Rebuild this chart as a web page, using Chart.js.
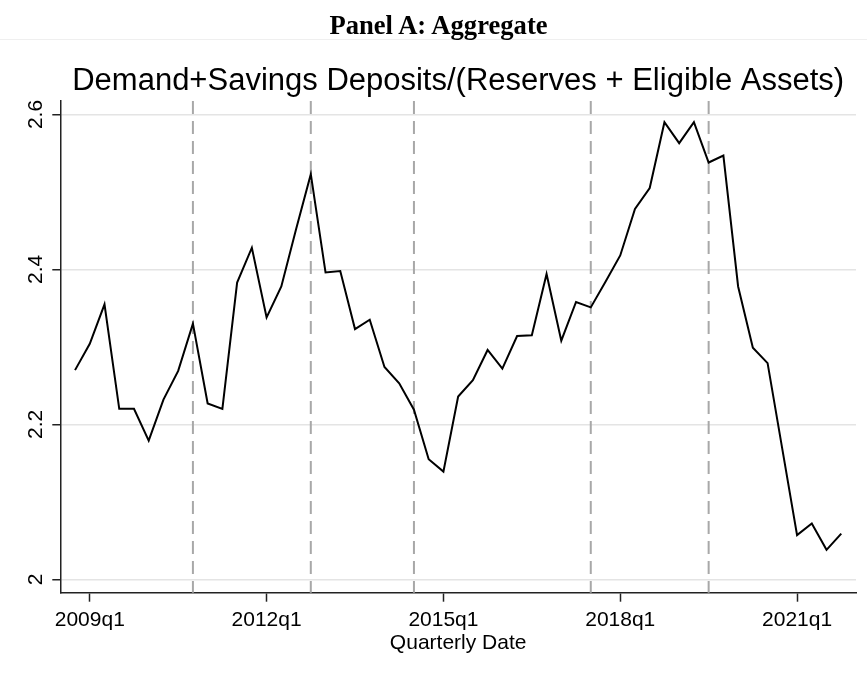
<!DOCTYPE html>
<html>
<head>
<meta charset="utf-8">
<script src="https://cdn.jsdelivr.net/npm/chart.js@4/dist/chart.umd.min.js"></script>
<style>
body{margin:0;background:#fff;overflow:hidden;}
#panel{position:absolute;top:10px;left:5px;width:867px;text-align:center;line-height:30px;font:bold 26.6px "Liberation Serif","Times New Roman",serif;color:#000;}
#sep{position:absolute;top:39px;left:0;width:867px;height:1px;background:#efefef;}
#c{position:absolute;top:0;left:0;}
</style>
</head>
<body>
<canvas id="c" width="867" height="673"></canvas>
<div id="sep"></div>
<div id="panel">Panel A: Aggregate</div>
<script>
const quarters = [
  "2008q4",
  "2009q1","2009q2","2009q3","2009q4",
  "2010q1","2010q2","2010q3","2010q4",
  "2011q1","2011q2","2011q3","2011q4",
  "2012q1","2012q2","2012q3","2012q4",
  "2013q1","2013q2","2013q3","2013q4",
  "2014q1","2014q2","2014q3","2014q4",
  "2015q1","2015q2","2015q3","2015q4",
  "2016q1","2016q2","2016q3","2016q4",
  "2017q1","2017q2","2017q3","2017q4",
  "2018q1","2018q2","2018q3","2018q4",
  "2019q1","2019q2","2019q3","2019q4",
  "2020q1","2020q2","2020q3","2020q4",
  "2021q1","2021q2","2021q3","2021q4"
];
const ratio = [
  2.270,
  2.304,2.355,2.220,2.220,
  2.179,2.232,2.269,2.330,
  2.227,2.220,2.383,2.428,
  2.338,2.378,2.452,2.523,
  2.396,2.398,2.323,2.335,
  2.274,2.253,2.219,2.155,
  2.139,2.236,2.257,2.296,
  2.272,2.314,2.315,2.394,
  2.308,2.358,2.351,2.384,
  2.418,2.478,2.505,2.590,
  2.563,2.590,2.538,2.547,
  2.378,2.299,2.279,2.168,
  2.057,2.072,2.038,2.059
];
const xTicks = ["2009q1","2012q1","2015q1","2018q1","2021q1"];
const yTicks = [2, 2.2, 2.4, 2.6];
const yTickLabels = ["2","2.2","2.4","2.6"];
const eventQuarters = ["2010q4","2012q4","2014q3","2017q3","2019q3"];
const xRange = ["2008q3","2022q1"];
const yRange = [1.9827, 2.6174];

const FONT="'Liberation Sans', Arial, sans-serif";

// "2009q1" -> running quarter number
function qnum(s){
  const p=s.split("q");
  return (+p[0])*4+(+p[1])-1;
}
function qlabel(n){
  return Math.floor(n/4)+"q"+(n%4+1);
}

// grey dashed lines at the event quarters
const eventLines={
  id:"eventLines",
  beforeDatasetsDraw(chart){
    const {ctx,chartArea,scales}=chart;
    ctx.save();
    ctx.strokeStyle="#a8a8a8";
    ctx.lineWidth=2;
    ctx.setLineDash([13,7]);
    eventQuarters.forEach(q=>{
      const x=scales.x.getPixelForValue(qnum(q));
      ctx.beginPath();
      ctx.moveTo(x,chartArea.top);
      ctx.lineTo(x,chartArea.bottom);
      ctx.stroke();
    });
    ctx.restore();
  }
};

new Chart(document.getElementById("c"),{
  type:"line",
  data:{
    datasets:[{
      data:quarters.map((q,i)=>({x:qnum(q),y:ratio[i]})),
      borderColor:"#000",
      borderWidth:2,
      pointRadius:0,
      tension:0,
      fill:false
    }]
  },
  options:{
    responsive:false,
    animation:false,
    layout:{padding:{top:40,right:11,bottom:0,left:0}},
    plugins:{
      legend:{display:false},
      tooltip:{enabled:false},
      title:{
        display:true,
        text:"Demand+Savings Deposits/(Reserves + Eligible Assets)",
        color:"#000",
        font:{family:FONT,size:31,weight:"normal"},
        padding:{top:22.4,bottom:1.4},
        fullSize:false
      }
    },
    scales:{
      x:{
        type:"linear",
        min:qnum(xRange[0]),
        max:qnum(xRange[1]),
        afterBuildTicks:s=>{s.ticks=xTicks.map(t=>({value:qnum(t)}));},
        afterFit:s=>{s.height=80.3;},
        ticks:{
          color:"#000",
          font:{family:FONT,size:21},
          padding:6,
          autoSkip:false,
          maxRotation:0,
          callback:v=>qlabel(v)
        },
        grid:{drawOnChartArea:false,tickLength:9,tickColor:"#222",tickWidth:1.5},
        border:{color:"#222",width:1.5},
        title:{
          display:true,
          text:"Quarterly Date",
          color:"#000",
          font:{family:FONT,size:21},
          padding:{top:0,bottom:17.6}
        }
      },
      y:{
        type:"linear",
        min:yRange[0],
        max:yRange[1],
        afterBuildTicks:s=>{s.ticks=yTicks.map(v=>({value:v}));},
        afterFit:s=>{s.width=60.3;},
        ticks:{
          color:"#000",
          font:{family:FONT,size:21},
          padding:1.5,
          minRotation:90,
          maxRotation:90,
          crossAlign:"center",
          callback:(v,i)=>yTickLabels[i]
        },
        grid:{color:"#e4e4e4",lineWidth:1.5,tickLength:8,tickColor:"#222",tickWidth:1.5},
        border:{color:"#222",width:1.5}
      }
    }
  },
  plugins:[eventLines]
});
</script>
</body>
</html>
